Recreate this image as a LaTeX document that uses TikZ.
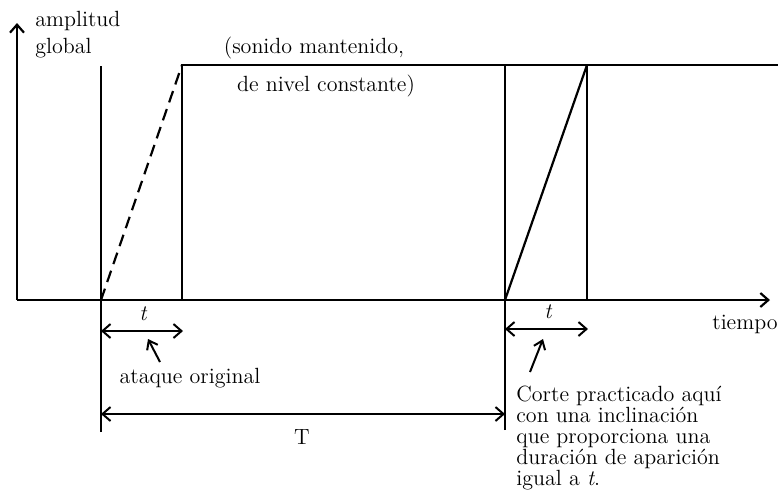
\documentclass[tikz,border=0pt]{standalone}
\usepackage{tikz}
\usetikzlibrary{
  arrows.meta,
  positioning,
  calc
}
\tikzset{
  trace/.style    = {line width = 1.1pt},
  cutline/.style  = {line width = 1.1pt, dash pattern = on 6pt off 3.5pt},
  axisarrow/.style= {line width = 1.1pt, -{Straight Barb[length=4pt, width=7pt]}},
  span/.style     = {line width = 1pt, {Straight Barb[length=4pt, width=7pt]}-{Straight Barb[length=4pt, width=7pt]}},
  pointer/.style  = {line width = 1pt, -{Straight Barb[length=4pt, width=6pt]}},
  txt/.style      = {inner sep = 0pt, font = \fontsize{11}{10.4}\selectfont}
}

\begin{document}
\begin{tikzpicture}[x=0.5pt, y=-0.5pt]
  \useasboundingbox (0,0) rectangle (781,494);

  % Key points
  \coordinate (o)     at ( 17, 300);
  \coordinate (ytop)  at ( 17,  23);
  \coordinate (xend)  at (770, 300);
  \coordinate (a0)    at (101, 300);
  \coordinate (a0top) at (101,  66);
  \coordinate (a0bot) at (101, 432);
  \coordinate (a1)    at (182, 300);
  \coordinate (a1top) at (182,  65);
  \coordinate (c0)    at (505, 300);
  \coordinate (c0top) at (505,  65);
  \coordinate (c0bot) at (505, 430);
  \coordinate (c1)    at (587, 300);
  \coordinate (c1top) at (587,  65);
  \coordinate (lvend) at (778,  65);

  % Axes
  \draw [axisarrow] (o) -- (ytop);
  \draw [axisarrow] (o) -- (xend);

  % Envelope
  \draw [trace]   (a0bot) -- (a0top);
  \draw [cutline] (a0) -- (a1top);
  \draw [trace]   (a1) -- (a1top) -- (lvend);
  \draw [trace]   (c0bot) -- (c0top);
  \draw [trace]   (c0) -- (c1top);
  \draw [trace]   (c1) -- (c1top);

  % Labels
  \node [txt, anchor=west] (amp)  at (35, 21) {amplitud};
  \node [txt, anchor=west] (glob) at (35, 48) {global};
  \node [txt] (sost) at (314, 48) {(sonido mantenido,};
  \node [txt] (nivel) at (326, 86) {de nivel constante)};
  \node [txt, anchor=east] (tiempo) at (778, 324) {tiempo};

  % Durations
  \coordinate (t0l) at (101, 331);
  \coordinate (t0r) at (183, 331);
  \draw [span] (t0l) -- (t0r);
  \node [txt] (t0) at (143, 314) {\itshape t};
  \coordinate (p0tail) at (160, 362);
  \coordinate (p0tip)  at (148, 339);
  \draw [pointer] (p0tail) -- (p0tip);
  \node [txt] (ataque) at (190, 378) {ataque original};

  \coordinate (t1l) at (505, 329);
  \coordinate (t1r) at (588, 329);
  \draw [span] (t1l) -- (t1r);
  \node [txt] (t1) at (548, 312) {\itshape t};
  \coordinate (p1tail) at (530, 372);
  \coordinate (p1tip)  at (543, 339);
  \draw [pointer] (p1tail) -- (p1tip);

  \coordinate (Tl) at (101, 414);
  \coordinate (Tr) at (505, 414);
  \draw [span] (Tl) -- (Tr);
  \node [txt] (T) at (302, 437) {T};

  \node [txt, anchor=north west, align=left] (corte) at (516, 386)
    {Corte practicado aquí\\con una inclinación\\que proporciona una\\duración de aparición\\igual a \textit{t}.};
\end{tikzpicture}
\end{document}
